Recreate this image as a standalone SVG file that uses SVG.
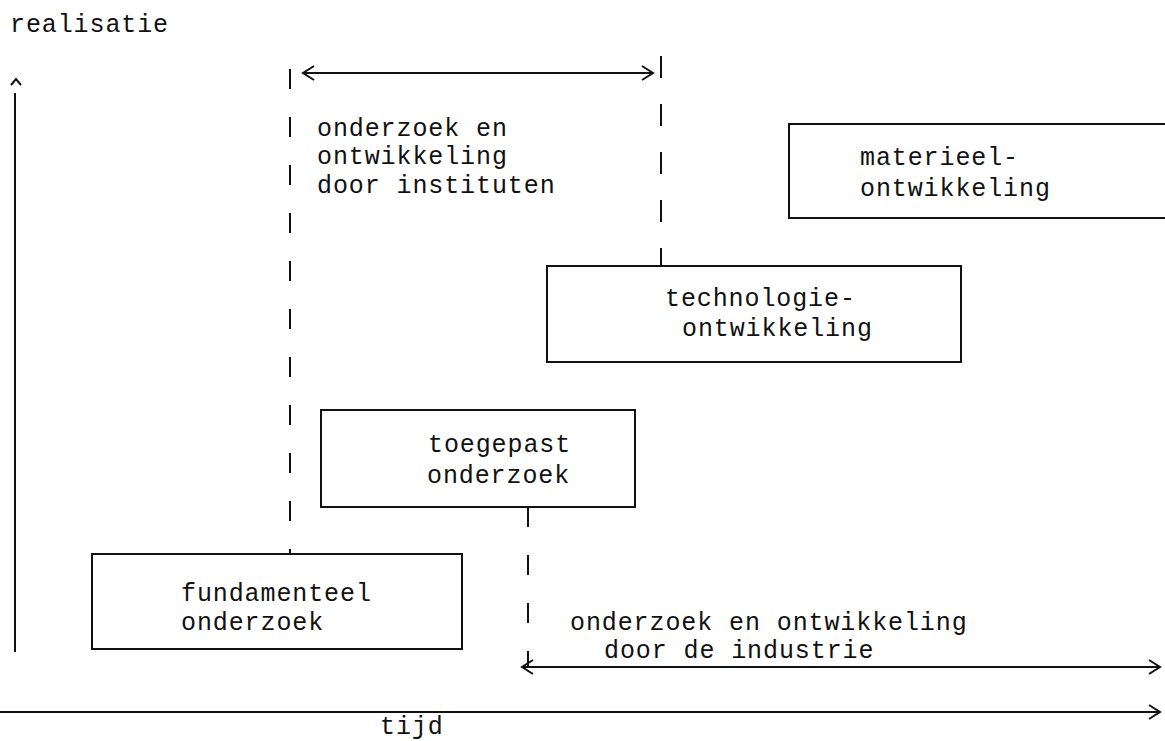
<svg xmlns="http://www.w3.org/2000/svg" width="1165" height="741" viewBox="0 0 1165 741">
<style>
text{font-family:"Liberation Mono","DejaVu Sans Mono",monospace;font-size:25px;letter-spacing:0.9px;fill:#111}
.box{fill:none;stroke:#111;stroke-width:2}
.ln{fill:none;stroke:#111;stroke-width:2}
.dash{fill:none;stroke:#111;stroke-width:2;stroke-dasharray:20 28}
.head{fill:none;stroke:#111;stroke-width:2;stroke-linejoin:miter}
</style>
<rect width="1165" height="741" fill="#fff"/>
<g id="axes">
<text x="10" y="32">realisatie</text>
<line class="ln" x1="15" y1="93" x2="15" y2="652"/>
<polyline class="head" points="11,85 16,79 21,85"/>
<line class="ln" x1="0" y1="712" x2="1159" y2="712"/>
<polyline class="head" points="1149,705 1160,712 1149,719"/>
<text x="380" y="734">tijd</text>
</g>
<g id="connectors">
<line class="dash" x1="290" y1="69" x2="290" y2="553"/>
<line class="dash" x1="661" y1="56" x2="661" y2="266" style="stroke-dasharray:22 26"/>
<line class="dash" x1="528" y1="507" x2="528" y2="667"/>
<line class="ln" x1="304" y1="73" x2="652" y2="73"/>
<polyline class="head" points="314,66 303,73 314,80"/>
<polyline class="head" points="642,66 653,73 642,80"/>
<line class="ln" x1="523" y1="667" x2="1159" y2="667"/>
<polyline class="head" points="533,660 522,667 533,674"/>
<polyline class="head" points="1149,660 1160,667 1149,674"/>
</g>
<g id="institutes">
<text x="317" y="136">onderzoek en</text>
<text x="317" y="164">ontwikkeling</text>
<text x="317" y="193">door instituten</text>
</g>
<g id="industrie">
<text x="570" y="630">onderzoek en ontwikkeling</text>
<text x="604" y="658">door de industrie</text>
</g>
<g id="materieel">
<polyline class="box" points="1166,124 789,124 789,218 1166,218"/>
<text x="860" y="165">materieel-</text>
<text x="860" y="196">ontwikkeling</text>
</g>
<g id="technologie">
<rect class="box" x="547" y="266" width="414" height="96"/>
<text x="665" y="306">technologie-</text>
<text x="682" y="336">ontwikkeling</text>
</g>
<g id="toegepast">
<rect class="box" x="321" y="410" width="314" height="97"/>
<text x="428" y="452">toegepast</text>
<text x="427" y="483">onderzoek</text>
</g>
<g id="fundamenteel">
<rect class="box" x="92" y="554" width="370" height="95"/>
<text x="181" y="601">fundamenteel</text>
<text x="181" y="630">onderzoek</text>
</g>
</svg>
